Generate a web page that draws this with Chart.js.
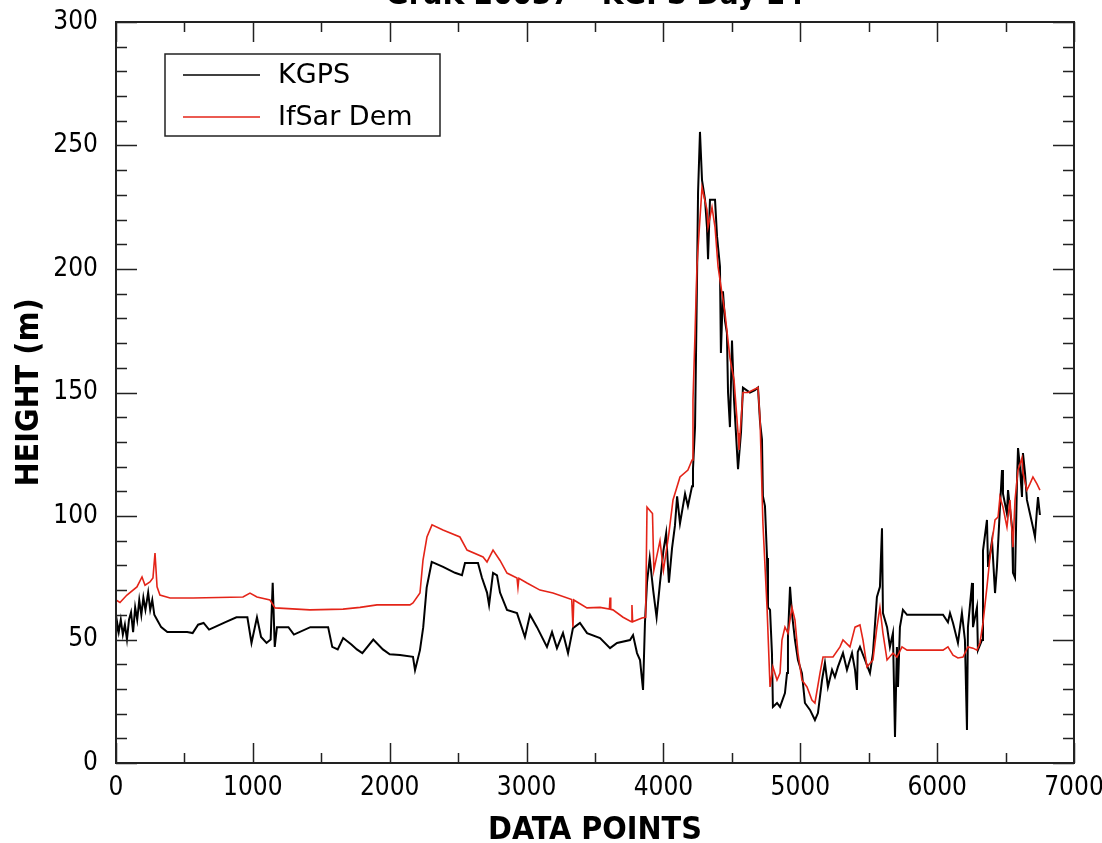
<!DOCTYPE html>
<html>
<head>
<meta charset="utf-8">
<script src="https://cdn.jsdelivr.net/npm/chart.js@4.4.1/dist/chart.umd.min.js"></script>
<style>
  html, body { margin: 0; padding: 0; background: #fff; overflow: hidden; }
  #wrap { position: absolute; left: 0; top: -20px; width: 1102px; height: 880px; }
</style>
</head>
<body>
<div id="wrap"><canvas id="heightChart" width="1102" height="880"></canvas></div>
<script>
var titleText = 'GrdK 20037 - KGPS Day 14';
var seriesLabels = ['KGPS', 'IfSar Dem'];

var xTicks = [0, 1000, 2000, 3000, 4000, 5000, 6000, 7000];
var yTicks = [0, 50, 100, 150, 200, 250, 300];

// KGPS height (m) vs data point index
var kgpsX = [0,8,20,35,50,65,80,95,110,125,140,155,170,185,200,215,235,250,265,280,300,330,375,450,520,560,600,640,680,720,800,880,960,990,1030,1060,1100,1130,1145,1160,1176,1260,1300,1420,1550,1580,1620,1660,1720,1760,1800,1880,1950,2000,2075,2170,2185,2221,2245,2270,2307,2390,2477,2528,2550,2645,2674,2711,2726,2755,2784,2806,2857,2930,2988,3025,3076,3149,3186,3222,3266,3303,3339,3390,3442,3537,3610,3661,3756,3778,3807,3829,3851,3865,3880,3900,3925,3950,3975,4000,4020,4040,4063,4084,4100,4121,4158,4179,4209,4216,4231,4245,4253,4267,4282,4304,4318,4326,4340,4377,4392,4413,4420,4435,4450,4464,4472,4486,4501,4516,4545,4567,4581,4632,4669,4691,4706,4720,4727,4742,4757,4764,4779,4793,4800,4830,4852,4888,4903,4910,4925,4939,4961,4983,5012,5034,5071,5107,5129,5159,5180,5202,5232,5253,5275,5312,5341,5378,5400,5414,5420,5436,5473,5509,5531,5560,5582,5597,5604,5634,5655,5677,5692,5706,5714,5728,5750,5780,6043,6079,6094,6116,6152,6181,6203,6218,6225,6255,6262,6291,6298,6328,6335,6364,6372,6401,6423,6437,6459,6474,6481,6510,6518,6547,6554,6569,6583,6591,6605,6620,6627,6642,6656,6678,6700,6715,6729,6737,6751];
var kgpsY = [51,57,53,58,52,56,50,58,61,53,63,58,66,60,67,62,69,62,66,60,58,55,53,53,53,52.6,56,56.7,54,55,57,59,59,48.6,59,51,48.6,50,73,47,55,55,52,55,55,47,46,50.6,48,46,44.5,50,46,44,43.7,43,37.6,45.7,55,71,81.4,79.4,77,76,81,81,75,69,64,77,76,69,62,60.7,51,60,55,47,53,46.5,52.6,44.5,54.6,56.7,52.6,50.6,46.5,48.6,49.8,51.8,44.5,41.7,29.6,56.7,73,83,70,59,73,86,93,73,87,96,108,97,109,104,112,119,136,194,231,255.5,236,228,217,204,228,228,213,201,166,191,179,174,150,136,171,147,119,134,152,150,151,152,138,131,108,104,83,63,62,44.5,22.7,24.3,22.7,28.3,36.4,51,71.3,60.7,49.8,41.7,36.4,24.3,21.5,17.4,20.2,33.6,40.5,30.8,37.7,34.8,38.9,44.5,37.7,44.5,37.7,29.6,45,47,41.7,36.4,44.5,67.2,71.3,95,60.7,55,47,52.6,10.5,47,30.8,55,62,60,60,57,60.7,56.7,48.6,60.7,49.8,13.4,55,72.9,55,63,45.7,49.8,86,98.4,79.4,90,68.8,79.4,103.6,118.6,109,101,110.5,95.5,77,75,113,127.5,119.8,107.7,125.5,117.4,106.5,101,95.5,91.5,102.4,107.7,100.4];

// IfSar DEM height (m) vs data point index
var demX = [0,29,80,153,190,212,248,270,285,300,321,395,563,928,979,1030,1125,1162,1417,1659,1783,1907,2148,2170,2221,2243,2272,2309,2389,2513,2565,2682,2711,2755,2806,2857,2930,2937,2944,3003,3098,3193,3330,3339,3345,3441,3537,3605,3610,3615,3631,3705,3765,3770,3775,3843,3870,3880,3920,3930,3975,4000,4040,4070,4121,4179,4209,4216,4231,4245,4260,4282,4318,4326,4355,4377,4399,4428,4450,4464,4486,4516,4545,4552,4581,4618,4691,4706,4727,4757,4779,4800,4830,4852,4866,4888,4910,4939,4961,4983,5012,5049,5085,5107,5144,5166,5239,5290,5312,5363,5400,5436,5458,5487,5531,5560,5582,5604,5634,5677,5706,5743,5780,6043,6079,6116,6152,6189,6225,6262,6291,6313,6335,6364,6386,6423,6445,6459,6481,6510,6532,6554,6569,6591,6620,6627,6656,6678,6700,6729,6751];
var demY = [66,65,68,71.3,75.3,72,73.3,74.9,85,71.3,68,66.8,66.8,67.2,68.8,67.2,66,62.8,62,62.3,63,64,64,64.8,68.8,82,91.5,96.4,94.3,91.5,86.2,83.4,81.4,86.2,82,76.9,74.9,71,74.8,72.9,70,68.8,66.2,55,66,62.8,63,62.3,67,62.2,62,59,57.2,64,57.2,58.7,59,103.6,101,78,90,78,93,106.5,115.8,118.6,122.7,147,174,201,214.6,233,224,217,225,217,201,190,182,175,164,155,133.6,126.7,150,150,152,139,97,63,30.8,38.9,33.6,36.4,49.8,55,52.6,63,57.9,44.5,33.6,30.8,25.5,24.3,36.4,42.9,42.9,47,49.8,47,55,55.9,49.8,38.9,41.7,55,63,52.6,41.7,44.5,42.9,47,45.7,45.7,47,43.7,42.5,42.9,47,46.5,45.7,48.6,56.7,71.3,83.4,98.4,99.6,107.7,103.6,95.5,106.5,87.4,106.5,118.6,123.5,117.4,110.5,113,115.8,113,110.5];

var toPoints = function(xs, ys) {
    return xs.map(function(v, i) { return {x: v, y: ys[i]}; });
};

var narrow = "'Liberation Sans Narrow', 'DejaVu Sans Condensed', sans-serif";
var tickFont = {family: narrow, size: 26};
var axisTitleFont = {family: narrow, size: 32, weight: 'bold', lineHeight: 1};

// frame with inward major/minor ticks on all four sides
var frameTicks = {
    id: 'frameTicks',
    afterDatasetsDraw: function(chart) {
        var ctx = chart.ctx, a = chart.chartArea, x = chart.scales.x, y = chart.scales.y;
        ctx.save();
        ctx.strokeStyle = '#222';
        ctx.lineWidth = 1.5;
        ctx.beginPath();
        for (var v = 0; v <= 7000; v += 500) {
            var px = Math.round(x.getPixelForValue(v)) + 0.5;
            var len = v % 1000 ? 10 : 20;
            ctx.moveTo(px, a.bottom); ctx.lineTo(px, a.bottom - len);
            ctx.moveTo(px, a.top); ctx.lineTo(px, a.top + len);
        }
        for (var w = 0; w <= 300; w += 10) {
            var py = Math.round(y.getPixelForValue(w)) + 0.5;
            var l2 = w % 50 ? 11 : 21;
            ctx.moveTo(a.left, py); ctx.lineTo(a.left + l2, py);
            ctx.moveTo(a.right, py); ctx.lineTo(a.right - l2, py);
        }
        ctx.stroke();
        ctx.lineWidth = 2;
        ctx.strokeRect(a.left, a.top, a.right - a.left, a.bottom - a.top);
        ctx.restore();
    }
};

// legend box inside the plot, top left
var boxLegend = {
    id: 'boxLegend',
    afterDraw: function(chart) {
        var ctx = chart.ctx, a = chart.chartArea;
        var bx = a.left + 49, by = a.top + 32, bw = 275, bh = 82;
        ctx.save();
        ctx.fillStyle = '#fff';
        ctx.fillRect(bx, by, bw, bh);
        ctx.strokeStyle = '#222';
        ctx.lineWidth = 1.5;
        ctx.strokeRect(bx, by, bw, bh);
        ctx.font = "27px 'DejaVu Sans', sans-serif";
        ctx.textBaseline = 'middle';
        chart.data.datasets.forEach(function(ds, i) {
            var ly = by + 21 + i * 42;
            ctx.strokeStyle = ds.borderColor;
            ctx.lineWidth = 1.3;
            ctx.beginPath();
            ctx.moveTo(bx + 18, ly); ctx.lineTo(bx + 95, ly);
            ctx.stroke();
            ctx.fillStyle = '#000';
            ctx.fillText(ds.label, bx + 113, ly + 1);
        });
        ctx.restore();
    }
};

var heightChart = new Chart(document.getElementById('heightChart'), {
    type: 'scatter',
    data: {
        datasets: [{
            label: seriesLabels[0],
            data: toPoints(kgpsX, kgpsY),
            showLine: true,
            borderColor: '#000',
            borderWidth: 2,
            pointRadius: 0,
            order: 1
        }, {
            label: seriesLabels[1],
            data: toPoints(demX, demY),
            showLine: true,
            borderColor: 'rgb(228,36,24)',
            borderWidth: 1.6,
            pointRadius: 0,
            order: 0
        }]
    },
    options: {
        responsive: false,
        animation: false,
        devicePixelRatio: 1,
        layout: {
            padding: {left: 0, right: 28, top: 0, bottom: 0}
        },
        scales: {
            x: {
                type: 'linear',
                min: 0,
                max: 7000,
                afterBuildTicks: function(s) { s.ticks = xTicks.map(function(v) { return {value: v}; }); },
                afterFit: function(s) { s.height = 97; s.paddingLeft = 0; s.paddingRight = 0; },
                grid: {display: false, drawTicks: false},
                border: {display: false},
                ticks: {
                    color: '#000',
                    font: tickFont,
                    padding: 10,
                    maxRotation: 0,
                    callback: function(v) { return String(v); }
                },
                title: {
                    display: true,
                    text: 'DATA POINTS',
                    color: '#000',
                    font: axisTitleFont,
                    padding: {top: 0, bottom: 13}
                }
            },
            y: {
                min: 0,
                max: 300,
                afterBuildTicks: function(s) { s.ticks = yTicks.map(function(v) { return {value: v}; }); },
                afterFit: function(s) { s.width = 116; s.paddingTop = 0; s.paddingBottom = 0; },
                grid: {display: false, drawTicks: false},
                border: {display: false},
                ticks: {
                    color: '#000',
                    font: tickFont,
                    padding: 18,
                    callback: function(v) { return String(v); }
                },
                title: {
                    display: true,
                    text: 'HEIGHT (m)',
                    color: '#000',
                    font: axisTitleFont,
                    padding: {top: 14, bottom: 0}
                }
            }
        },
        plugins: {
            legend: {display: false},
            tooltip: {enabled: false},
            title: {
                display: true,
                fullSize: false,
                text: titleText,
                color: '#000',
                font: {family: narrow, size: 31, lineHeight: 1},
                padding: {top: 0, bottom: 11}
            }
        }
    },
    plugins: [frameTicks, boxLegend]
});
</script>
</body>
</html>
